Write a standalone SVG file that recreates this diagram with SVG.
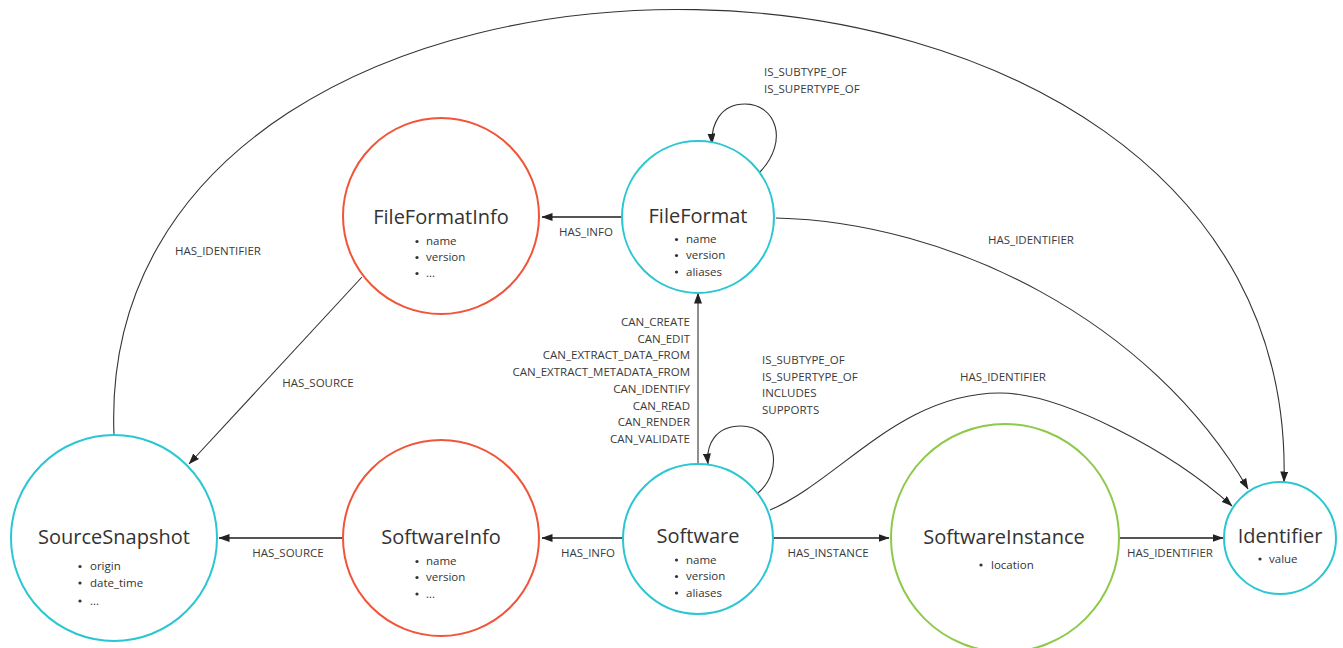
<svg xmlns="http://www.w3.org/2000/svg" width="1343" height="648" viewBox="0 0 1343 648">
<defs>
<marker id="arr" markerWidth="11" markerHeight="8" refX="10.5" refY="4" orient="auto" markerUnits="userSpaceOnUse">
<path d="M0,0 L11,4 L0,8 z" fill="#222"/>
</marker>
<style>
text{font-family:"Open Sans","Liberation Sans",sans-serif;fill:#333}
.title{font-size:20px;text-anchor:middle}
.item{font-size:11.5px}
.lbl{font-size:11.5px;fill:#3a3a3a}
.c{text-anchor:middle}
.r{text-anchor:end}
.cy{fill:#fff;stroke:#2ac6d2;stroke-width:2}
.rd{fill:#fff;stroke:#f0553a;stroke-width:2}
.gr{fill:#fff;stroke:#8dc94a;stroke-width:2}
.e{fill:none;stroke:#333;stroke-width:1.1;marker-end:url(#arr)}
.s{fill:none;stroke:#555;stroke-width:2;marker-end:url(#arr)}
.dot{fill:#333}
</style>
</defs>
<rect width="1343" height="648" fill="#fff"/>

<g id="connectors">
<path class="e" d="M114,435 C90,-140 1300,-140 1284,482"/>
<path class="e" d="M776,218 C950,222 1150,320 1248,489"/>
<path class="e" d="M770,510 C840,480 900,393 1000,393 C1060,393 1170,450 1232,506"/>
<path class="e" d="M760,172 C790,140 775,104 745,104 C720,104 711,125 712,144"/>
<path class="e" d="M758,493 C785,470 775,426 741,426 C715,426 706,445 708,464"/>
<path class="e" d="M698,465 L698,293"/>
<path class="e" d="M362,277 L189,464"/>
<path class="s" d="M621,217 L542,217"/>
<path class="s" d="M623,538 L542,538"/>
<path class="s" d="M343,538 L219,538"/>
<path class="s" d="M773,538 L889,538"/>
<path class="s" d="M1119,538 L1223,538"/>

<text class="lbl" x="764" y="76">IS_SUBTYPE_OF</text>
<text class="lbl" x="764" y="93">IS_SUPERTYPE_OF</text>
<text class="lbl c" x="586" y="236">HAS_INFO</text>
<text class="lbl c" x="1031" y="244">HAS_IDENTIFIER</text>
<text class="lbl c" x="218" y="255">HAS_IDENTIFIER</text>
<text class="lbl c" x="318" y="387">HAS_SOURCE</text>
<text class="lbl r" x="690" y="326">CAN_CREATE</text>
<text class="lbl r" x="690" y="342.7">CAN_EDIT</text>
<text class="lbl r" x="690" y="359.4">CAN_EXTRACT_DATA_FROM</text>
<text class="lbl r" x="690" y="376.1">CAN_EXTRACT_METADATA_FROM</text>
<text class="lbl r" x="690" y="392.8">CAN_IDENTIFY</text>
<text class="lbl r" x="690" y="409.5">CAN_READ</text>
<text class="lbl r" x="690" y="426.2">CAN_RENDER</text>
<text class="lbl r" x="690" y="442.9">CAN_VALIDATE</text>
<text class="lbl" x="762" y="364">IS_SUBTYPE_OF</text>
<text class="lbl" x="762" y="380.7">IS_SUPERTYPE_OF</text>
<text class="lbl" x="762" y="397.4">INCLUDES</text>
<text class="lbl" x="762" y="414.1">SUPPORTS</text>
<text class="lbl c" x="1003" y="381">HAS_IDENTIFIER</text>
<text class="lbl c" x="288" y="557">HAS_SOURCE</text>
<text class="lbl c" x="588" y="557">HAS_INFO</text>
<text class="lbl c" x="828" y="557">HAS_INSTANCE</text>
<text class="lbl c" x="1170" y="557">HAS_IDENTIFIER</text>
</g>

<g id="FileFormatInfo">
<circle class="rd" cx="441" cy="216" r="98"/>
<text class="title" x="441" y="224">FileFormatInfo</text>
<circle class="dot" cx="417" cy="241.5" r="1.6"/><text class="item" x="426" y="245">name</text>
<circle class="dot" cx="417" cy="257.5" r="1.6"/><text class="item" x="426" y="261">version</text>
<circle class="dot" cx="417" cy="273.5" r="1.6"/><text class="item" x="426" y="277">...</text>
</g>

<g id="FileFormat">
<circle class="cy" cx="698" cy="217" r="76"/>
<text class="title" x="698" y="223">FileFormat</text>
<circle class="dot" cx="676.5" cy="239.5" r="1.6"/><text class="item" x="686" y="243">name</text>
<circle class="dot" cx="676.5" cy="255.5" r="1.6"/><text class="item" x="686" y="259">version</text>
<circle class="dot" cx="676.5" cy="272" r="1.6"/><text class="item" x="686" y="275.5">aliases</text>
</g>

<g id="SourceSnapshot">
<circle class="cy" cx="114" cy="538" r="103"/>
<text class="title" x="114" y="544">SourceSnapshot</text>
<circle class="dot" cx="80" cy="566.5" r="1.6"/><text class="item" x="90" y="570">origin</text>
<circle class="dot" cx="80" cy="583" r="1.6"/><text class="item" x="90" y="586.5">date_time</text>
<circle class="dot" cx="80" cy="601" r="1.6"/><text class="item" x="90" y="604.5">...</text>
</g>

<g id="SoftwareInfo">
<circle class="rd" cx="441" cy="538" r="98"/>
<text class="title" x="441" y="544">SoftwareInfo</text>
<circle class="dot" cx="417" cy="561.5" r="1.6"/><text class="item" x="426" y="565">name</text>
<circle class="dot" cx="417" cy="577.5" r="1.6"/><text class="item" x="426" y="581">version</text>
<circle class="dot" cx="417" cy="594" r="1.6"/><text class="item" x="426" y="597.5">...</text>
</g>

<g id="Software">
<circle class="cy" cx="698" cy="539" r="75"/>
<text class="title" x="698" y="543">Software</text>
<circle class="dot" cx="676.5" cy="560" r="1.6"/><text class="item" x="686" y="563.5">name</text>
<circle class="dot" cx="676.5" cy="576.5" r="1.6"/><text class="item" x="686" y="580">version</text>
<circle class="dot" cx="676.5" cy="593" r="1.6"/><text class="item" x="686" y="596.5">aliases</text>
</g>

<g id="SoftwareInstance">
<circle class="gr" cx="1005" cy="538" r="114"/>
<text class="title" x="1004" y="544">SoftwareInstance</text>
<circle class="dot" cx="981" cy="565" r="1.6"/><text class="item" x="991" y="568.5">location</text>
</g>

<g id="Identifier">
<circle class="cy" cx="1280" cy="538" r="56"/>
<text class="title" x="1280" y="543">Identifier</text>
<circle class="dot" cx="1260" cy="559" r="1.6"/><text class="item" x="1269" y="562.5">value</text>
</g>
</svg>
